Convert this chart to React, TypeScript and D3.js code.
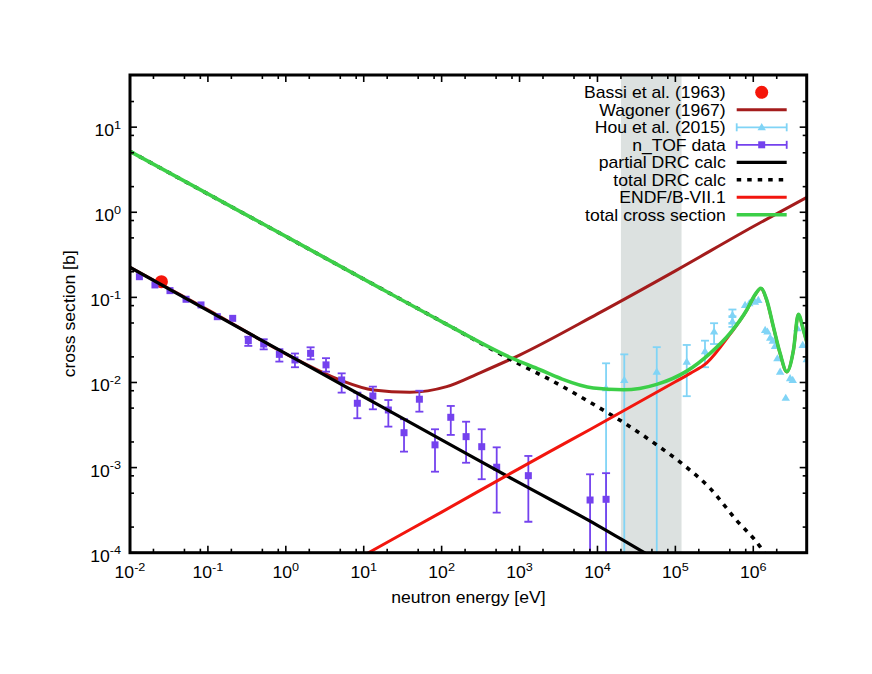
import React from "react";
import * as d3 from "d3";

// ---------- data ----------
// Bassi et al. (1963)
const bassiE = [0.0253];
const bassiS = [0.153];

// Wagoner (1967)
const wagonerE = [0.01, 0.1, 1.25, 4.97, 13.3, 39, 116, 311, 1000, 1e4, 1e5, 1e6, 5e6];
const wagonerS = [0.225, 0.0715, 0.0195, 0.0107, 0.00817, 0.00767, 0.00893, 0.013, 0.021, 0.064, 0.205, 0.68, 1.52];

// Hou et al. (2015)
const houE = [1.29e4, 2.21e4, 5.77e4, 1.4e5, 2.4e5, 3.14e5, 5.4e5, 5.4e5, 7.85e5, 8.9e5, 1.05e6, 1.16e6, 1.42e6, 1.52e6, 1.65e6, 1.78e6, 1.9e6, 2.04e6, 2.21e6, 2.61e6, 2.97e6, 3.21e6, 3.68e6, 4.31e6, 4.86e6];
const houS = [0.00855, 0.0107, 0.0134, 0.0175, 0.0233, 0.0396, 0.062, 0.052, 0.0815, 0.0853, 0.089, 0.093, 0.0414, 0.0396, 0.0336, 0.031, 0.0269, 0.0192, 0.0134, 0.0066, 0.0112, 0.0107, 0.0434, 0.0276, 0.0188];
const houLo: (number | null)[] = [1e-6, 1e-6, 1e-6, 0.0069, 0.0151, 0.0283, 0.05, 0.045, null, null, null, null, null, null, null, null, null, null, null, null, null, null, null, null, null];
const houHi: (number | null)[] = [0.0168, 0.0214, 0.026, 0.0276, 0.031, 0.0497, 0.072, 0.06, null, null, null, null, null, null, null, null, null, null, null, null, null, null, null, null, null];

// n_TOF data
const ntofE = [0.0132, 0.0209, 0.0326, 0.0524, 0.0815, 0.132, 0.208, 0.33, 0.52, 0.826, 1.31, 2.08, 3.28, 5.21, 8.28, 13.1, 20.7, 32.9, 51.8, 82.2, 131, 206, 327, 509, 1297, 8040, 12900];
const ntofS = [0.175, 0.14, 0.12, 0.095, 0.0815, 0.0593, 0.0567, 0.031, 0.0283, 0.0214, 0.0184, 0.022, 0.0161, 0.0107, 0.0057, 0.00694, 0.00475, 0.00257, 0.00636, 0.00185, 0.0039, 0.00231, 0.00176, 0.00101, 0.000804, 0.000416, 0.000424];
const ntofLo: (number | null)[] = [null, null, null, null, null, null, null, 0.0269, 0.0245, 0.0176, 0.0151, 0.0187, 0.0134, 0.0076, 0.0038, 0.00484, 0.00303, 0.00154, 0.00454, 0.000895, 0.00242, 0.00114, 0.00073, 0.000295, 0.000231, 1e-6, 1e-6];
const ntofHi: (number | null)[] = [null, null, null, null, null, null, null, 0.0345, 0.0322, 0.0246, 0.0219, 0.0259, 0.0193, 0.0128, 0.0076, 0.00894, 0.00622, 0.0037, 0.008, 0.00282, 0.0053, 0.00346, 0.00282, 0.00173, 0.00137, 0.000834, 0.00086];

// partial DRC calc
const partialE = [0.01, 0.1, 1, 10, 100, 1000, 1e4, 4e4, 1e5];
const partialS = [0.225, 0.07, 0.0218, 0.0068, 0.00212, 0.00066, 0.00021, 0.0001, 0.000062];

// total DRC calc
const totalDrcE = [0.01, 0.1, 1, 10, 100, 1000, 2234, 1e4, 2.05e4, 5.75e4, 1.27e5, 2.79e5, 6.1e5, 1.22e6, 1.6e6];
const totalDrcS = [5.2, 1.64, 0.52, 0.164, 0.052, 0.0164, 0.0113, 0.0052, 0.00349, 0.00185, 0.00108, 0.00057, 0.00024, 0.000118, 0.00008];

// ENDF/B-VII.1
const endfE = [5, 11.5, 100, 1000, 2470, 8040, 1e5, 1.55e5, 2.53e5, 5.04e5, 8.24e5, 1.05e6, 1.25e6, 1.49e6, 1.81e6, 2.21e6, 2.69e6, 3.28e6, 3.79e6, 4.4e6, 4.86e6, 5e6];
const endfS = [0.000065, 0.0001, 0.0003, 0.00098, 0.00155, 0.0028, 0.0102, 0.0128, 0.017, 0.037, 0.0705, 0.106, 0.127, 0.092, 0.045, 0.0218, 0.0133, 0.024, 0.063, 0.0412, 0.03, 0.028];

// total cross section
const totalE = [0.01, 0.1, 1, 10, 100, 809, 1833, 3311, 8850, 2.15e4, 5.77e4, 1.4e5, 2.79e5, 5.04e5, 8.24e5, 1.05e6, 1.25e6, 1.49e6, 1.81e6, 2.21e6, 2.69e6, 3.28e6, 3.79e6, 4.4e6, 4.86e6, 5e6];
const totalS = [5.2, 1.644, 0.52, 0.164, 0.052, 0.0192, 0.0141, 0.0112, 0.0086, 0.0082, 0.0095, 0.0136, 0.022, 0.0379, 0.0711, 0.107, 0.128, 0.093, 0.0453, 0.022, 0.0134, 0.0241, 0.0633, 0.0414, 0.03, 0.028];

// shaded energy band
const bandE = [2e4, 1.2e5];

// axes
const xDomain = [0.01, 4.85e6];
const yDomain = [1e-4, 41];
const xDecades = [-2, -1, 0, 1, 2, 3, 4, 5, 6];
const yDecades = [-4, -3, -2, -1, 0, 1];
const minorMult = [2, 5, 8];

const legendLabels = [
  "Bassi et al. (1963)",
  "Wagoner (1967)",
  "Hou et al. (2015)",
  "n_TOF data",
  "partial DRC calc",
  "total DRC calc",
  "ENDF/B-VII.1",
  "total cross section",
];

// ---------- styling ----------
const W = 872;
const H = 674;
const L = 130;
const R = 806.7;
const T = 75;
const B = 552.7;
const FONT = "'Liberation Sans', Arial, Helvetica, sans-serif";
const STRETCH = 1.1;
const FS = 16;

const C = {
  bassi: "#f5160a",
  wagoner: "#a41c1c",
  hou: "#80d4f6",
  ntof: "#7442ee",
  partial: "#000000",
  totalDrc: "#000000",
  endf: "#f2160e",
  total: "#3ccf48",
  band: "#dce1e0",
};

const x = d3.scaleLog().domain(xDomain).range([L, R]);
const y = d3.scaleLog().domain(yDomain).range([B, T]);

const zip = (a: number[], b: number[]) => a.map((v, i) => [v, b[i]] as [number, number]);
const line = d3
  .line<[number, number]>()
  .x((d) => x(d[0]))
  .y((d) => y(d[1]))
  .curve(d3.curveMonotoneX);

function SText(props: {
  x: number;
  y: number;
  anchor?: string;
  rotate?: number;
  size?: number;
  children: React.ReactNode;
}) {
  const { x: tx, y: ty, anchor = "start", rotate, size = FS, children } = props;
  return (
    <text
      transform={`translate(${tx},${ty})${rotate ? ` rotate(${rotate})` : ""} scale(${STRETCH},1)`}
      textAnchor={anchor}
      fontSize={size}
      fontFamily={FONT}
      fill="#000"
    >
      {children}
    </text>
  );
}

function Pow({ e }: { e: number }) {
  return (
    <>
      <tspan>10</tspan>
      <tspan dy={-7.5} fontSize={11.5}>
        {String(e)}
      </tspan>
    </>
  );
}

function ErrBar({ px, lo, hi, color }: { px: number; lo: number | null; hi: number | null; color: string }) {
  if (lo == null || hi == null) return null;
  const y1 = y(lo);
  const y2 = y(hi);
  return (
    <g stroke={color} strokeWidth={1.8}>
      <line x1={px} x2={px} y1={y1} y2={y2} />
      <line x1={px - 4} x2={px + 4} y1={y1} y2={y1} />
      <line x1={px - 4} x2={px + 4} y1={y2} y2={y2} />
    </g>
  );
}

function Tri({ cx, cy, color }: { cx: number; cy: number; color: string }) {
  return <path d={`M${cx - 4.2},${cy + 3} L${cx + 4.2},${cy + 3} L${cx},${cy - 4.2} Z`} fill={color} />;
}

export default function App() {
  const xMinor: number[] = [];
  xDecades.forEach((k) =>
    minorMult.forEach((m) => {
      const v = m * Math.pow(10, k);
      if (v > xDomain[0] && v < xDomain[1]) xMinor.push(v);
    })
  );
  const yMinor: number[] = [];
  yDecades.forEach((k) =>
    minorMult.forEach((m) => {
      const v = m * Math.pow(10, k);
      if (v > yDomain[0] && v < yDomain[1]) yMinor.push(v);
    })
  );

  const legX1 = 736.7;
  const legX2 = 786.7;
  const legXm = (legX1 + legX2) / 2;
  const legTextX = 725.7;
  const legY0 = 92.3;
  const legDy = 17.5;

  return (
    <div style={{ position: "absolute", left: 0, top: 0 }}>
      <svg width={W} height={H} viewBox={`0 0 ${W} ${H}`} style={{ display: "block", background: "#fff" }}>
        <defs>
          <clipPath id="plotclip">
            <rect x={L} y={T} width={R - L} height={B - T} />
          </clipPath>
        </defs>
        <rect x={0} y={0} width={W} height={H} fill="#fff" />

        <g clipPath="url(#plotclip)">
          {/* shaded band */}
          <rect x={x(bandE[0])} y={T} width={x(bandE[1]) - x(bandE[0])} height={B - T} fill={C.band} />

          {/* Bassi */}
          {bassiE.map((e, i) => (
            <circle key={i} cx={x(e)} cy={y(bassiS[i])} r={6.5} fill={C.bassi} />
          ))}

          {/* Wagoner */}
          <path d={line(zip(wagonerE, wagonerS)) || ""} fill="none" stroke={C.wagoner} strokeWidth={3} />

          {/* Hou */}
          {houE.map((e, i) => (
            <g key={i}>
              <ErrBar px={x(e)} lo={houLo[i]} hi={houHi[i]} color={C.hou} />
              <Tri cx={x(e)} cy={y(houS[i])} color={C.hou} />
            </g>
          ))}

          {/* n_TOF */}
          {ntofE.map((e, i) => (
            <g key={i}>
              <ErrBar px={x(e)} lo={ntofLo[i]} hi={ntofHi[i]} color={C.ntof} />
              <rect x={x(e) - 3.5} y={y(ntofS[i]) - 3.5} width={7} height={7} fill={C.ntof} />
            </g>
          ))}

          {/* partial DRC */}
          <path d={line(zip(partialE, partialS)) || ""} fill="none" stroke={C.partial} strokeWidth={3.2} />

          {/* total DRC (dotted) */}
          <path
            d={line(zip(totalDrcE, totalDrcS)) || ""}
            fill="none"
            stroke={C.totalDrc}
            strokeWidth={3.6}
            strokeDasharray="4.5,6"
          />

          {/* ENDF */}
          <path d={line(zip(endfE, endfS)) || ""} fill="none" stroke={C.endf} strokeWidth={3} />

          {/* total cross section */}
          <path d={line(zip(totalE, totalS)) || ""} fill="none" stroke={C.total} strokeWidth={3.6} />
        </g>

        {/* ticks */}
        <g stroke="#000" strokeWidth={1.6}>
          {xDecades.map((k) => {
            const px = x(Math.pow(10, k));
            return (
              <g key={"xM" + k}>
                <line x1={px} x2={px} y1={B} y2={B - 7} />
                <line x1={px} x2={px} y1={T} y2={T + 7} />
              </g>
            );
          })}
          {xMinor.map((v, i) => {
            const px = x(v);
            return (
              <g key={"xm" + i}>
                <line x1={px} x2={px} y1={B} y2={B - 4} />
                <line x1={px} x2={px} y1={T} y2={T + 4} />
              </g>
            );
          })}
          {yDecades.map((k) => {
            const py = y(Math.pow(10, k));
            return (
              <g key={"yM" + k}>
                <line x1={L} x2={L + 7} y1={py} y2={py} />
                <line x1={R} x2={R - 7} y1={py} y2={py} />
              </g>
            );
          })}
          {yMinor.map((v, i) => {
            const py = y(v);
            return (
              <g key={"ym" + i}>
                <line x1={L} x2={L + 4} y1={py} y2={py} />
                <line x1={R} x2={R - 4} y1={py} y2={py} />
              </g>
            );
          })}
        </g>

        {/* frame */}
        <rect x={L} y={T} width={R - L} height={B - T} fill="none" stroke="#000" strokeWidth={3} />

        {/* tick labels */}
        {xDecades.map((k) => (
          <SText key={"xl" + k} x={x(Math.pow(10, k))} y={578} anchor="middle">
            <Pow e={k} />
          </SText>
        ))}
        {yDecades.map((k) => (
          <SText key={"yl" + k} x={121} y={y(Math.pow(10, k)) + 9} anchor="end">
            <Pow e={k} />
          </SText>
        ))}

        {/* axis titles */}
        <SText x={(L + R) / 2} y={603} anchor="middle">
          neutron energy [eV]
        </SText>
        <SText x={75} y={(T + B) / 2} anchor="middle" rotate={-90}>
          cross section [b]
        </SText>

        {/* legend */}
        {legendLabels.map((lab, i) => (
          <SText key={"lg" + i} x={legTextX} y={legY0 + i * legDy + 5.8} anchor="end">
            {lab}
          </SText>
        ))}
        {(() => {
          const ys = legendLabels.map((_, i) => legY0 + i * legDy);
          return (
            <g>
              <circle cx={legXm} cy={ys[0]} r={6.5} fill={C.bassi} />
              <line x1={legX1} x2={legX2} y1={ys[1]} y2={ys[1]} stroke={C.wagoner} strokeWidth={3} />
              <g stroke={C.hou} strokeWidth={1.8}>
                <line x1={legX1} x2={legX2} y1={ys[2]} y2={ys[2]} />
                <line x1={legX1} x2={legX1} y1={ys[2] - 4} y2={ys[2] + 4} />
                <line x1={legX2} x2={legX2} y1={ys[2] - 4} y2={ys[2] + 4} />
              </g>
              <Tri cx={legXm} cy={ys[2]} color={C.hou} />
              <g stroke={C.ntof} strokeWidth={1.8}>
                <line x1={legX1} x2={legX2} y1={ys[3]} y2={ys[3]} />
                <line x1={legX1} x2={legX1} y1={ys[3] - 4} y2={ys[3] + 4} />
                <line x1={legX2} x2={legX2} y1={ys[3] - 4} y2={ys[3] + 4} />
              </g>
              <rect x={legXm - 3.5} y={ys[3] - 3.5} width={7} height={7} fill={C.ntof} />
              <line x1={legX1} x2={legX2} y1={ys[4]} y2={ys[4]} stroke={C.partial} strokeWidth={3.2} />
              <line
                x1={legX1}
                x2={legX2}
                y1={ys[5]}
                y2={ys[5]}
                stroke={C.totalDrc}
                strokeWidth={3.6}
                strokeDasharray="4.5,6"
              />
              <line x1={legX1} x2={legX2} y1={ys[6]} y2={ys[6]} stroke={C.endf} strokeWidth={3} />
              <line x1={legX1} x2={legX2} y1={ys[7]} y2={ys[7]} stroke={C.total} strokeWidth={3.6} />
            </g>
          );
        })()}
      </svg>
    </div>
  );
}
